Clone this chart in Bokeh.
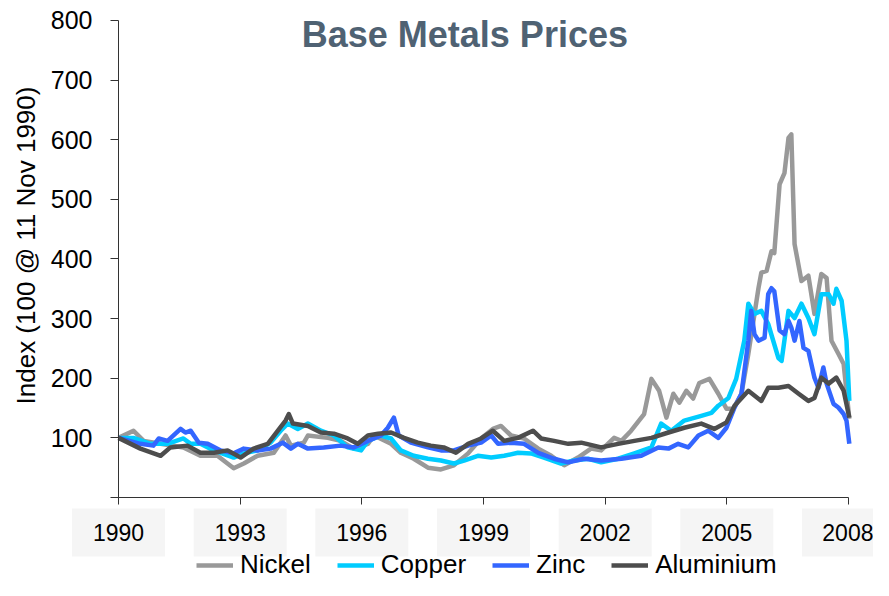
from math import pi
from bokeh.plotting import figure
from bokeh.models import Range1d, FixedTicker, Label, Legend, LegendItem
from bokeh.embed import file_html
from bokeh.resources import INLINE

# ---------------- data ----------------
tick_years = [1990, 1993, 1996, 1999, 2002, 2005, 2008]
tick_labels = ["1990", "1993", "1996", "1999", "2002", "2005", "2008"]
y_ticks = [0, 100, 200, 300, 400, 500, 600, 700, 800]

nickel_x = [1990.00, 1990.37, 1990.62, 1991.04, 1991.60, 1992.02, 1992.44, 1992.84, 1993.09, 1993.43,
            1993.83, 1994.12, 1994.25, 1994.57, 1994.67, 1995.16, 1995.48, 1995.80, 1996.15, 1996.30,
            1996.72, 1996.96, 1997.28, 1997.63, 1997.95, 1998.27, 1998.62, 1998.94, 1999.23, 1999.43,
            1999.68, 2000.00, 2000.35, 2000.67, 2000.99, 2001.33, 2001.65, 2001.90, 2002.22, 2002.40,
            2002.64, 2002.96, 2003.14, 2003.33, 2003.51, 2003.68, 2003.83, 2004.00, 2004.17, 2004.32,
            2004.57, 2004.79, 2004.99, 2005.16, 2005.36, 2005.53, 2005.78, 2005.85, 2005.98, 2006.10,
            2006.17, 2006.30, 2006.42, 2006.52, 2006.59, 2006.67, 2006.84, 2007.01, 2007.16, 2007.33,
            2007.46, 2007.58, 2007.75, 2007.88, 2008.02]
nickel_y = [100, 112, 95, 90, 84, 70, 70, 49, 57, 70,
            75, 104, 87, 92, 104, 100, 95, 82, 90, 104,
            90, 75, 65, 50, 47, 54, 74, 99, 115, 120,
            104, 99, 82, 70, 54, 67, 82, 79, 100, 95,
            112, 140, 199, 179, 134, 174, 159, 179, 166, 192,
            199, 174, 149, 149, 174, 241, 351, 377, 380, 413,
            410, 525, 544, 603, 609, 425, 363, 372, 308, 375,
            368, 263, 241, 224, 132]

copper_x = [1990.00, 1990.37, 1990.79, 1991.21, 1991.60, 1991.78, 1992.02, 1992.35, 1992.84, 1993.09,
            1993.43, 1993.75, 1994.00, 1994.17, 1994.42, 1994.67, 1994.99, 1995.31, 1995.65, 1995.98,
            1996.15, 1996.47, 1996.72, 1996.96, 1997.28, 1997.63, 1997.95, 1998.27, 1998.52, 1998.86,
            1999.19, 1999.51, 1999.85, 2000.17, 2000.49, 2000.91, 2001.23, 2001.58, 2001.90, 2002.32,
            2002.72, 2003.14, 2003.38, 2003.63, 2003.95, 2004.37, 2004.62, 2004.79, 2005.04, 2005.23,
            2005.43, 2005.53, 2005.68, 2005.85, 2006.02, 2006.27, 2006.35, 2006.52, 2006.67, 2006.84,
            2007.01, 2007.16, 2007.33, 2007.51, 2007.63, 2007.70, 2007.83, 2007.95, 2008.02]
copper_y = [100, 100, 90, 90, 99, 90, 90, 79, 67, 74,
            79, 92, 112, 124, 115, 124, 112, 104, 84, 79,
            95, 104, 99, 79, 70, 65, 62, 57, 62, 70,
            67, 70, 75, 74, 67, 57, 62, 65, 59, 65,
            74, 84, 124, 112, 129, 137, 142, 154, 167, 199,
            263, 325, 308, 313, 291, 234, 229, 313, 301, 325,
            301, 274, 341, 341, 325, 350, 330, 263, 162]

zinc_x = [1990.00, 1990.54, 1990.86, 1990.99, 1991.21, 1991.53, 1991.65, 1991.78, 1991.98, 1992.20,
          1992.52, 1992.84, 1993.09, 1993.43, 1993.75, 1994.05, 1994.25, 1994.42, 1994.67, 1995.06,
          1995.48, 1995.80, 1996.15, 1996.47, 1996.64, 1996.79, 1996.91, 1997.21, 1997.63, 1997.95,
          1998.27, 1998.62, 1998.94, 1999.19, 1999.36, 1999.68, 2000.00, 2000.35, 2000.74, 2001.09,
          2001.48, 2001.90, 2002.40, 2002.89, 2003.31, 2003.56, 2003.80, 2004.05, 2004.30, 2004.54,
          2004.79, 2004.99, 2005.19, 2005.36, 2005.53, 2005.60, 2005.68, 2005.78, 2005.93, 2006.02,
          2006.10, 2006.17, 2006.30, 2006.42, 2006.52, 2006.59, 2006.67, 2006.79, 2006.89, 2007.01,
          2007.16, 2007.26, 2007.38, 2007.46, 2007.63, 2007.75, 2007.88, 2007.95, 2008.02]
zinc_y = [100, 90, 87, 99, 95, 115, 109, 112, 92, 90,
          79, 74, 82, 79, 82, 92, 82, 90, 82, 84,
          87, 84, 95, 104, 117, 134, 104, 92, 84, 79,
          79, 87, 92, 104, 90, 92, 90, 75, 65, 59,
          65, 62, 65, 70, 84, 82, 90, 84, 104, 112,
          100, 117, 151, 174, 263, 313, 274, 263, 268, 341,
          351, 346, 280, 274, 296, 285, 263, 296, 251, 246,
          201, 184, 218, 191, 157, 151, 140, 129, 90]

aluminium_x = [1990.00, 1990.54, 1991.04, 1991.28, 1991.70, 1992.02, 1992.35, 1992.69, 1993.01, 1993.33,
               1993.68, 1993.93, 1994.12, 1994.20, 1994.30, 1994.67, 1994.99, 1995.31, 1995.65, 1995.90,
               1996.15, 1996.40, 1996.72, 1997.04, 1997.38, 1997.70, 1998.02, 1998.32, 1998.62, 1998.94,
               1999.23, 1999.51, 1999.85, 2000.22, 2000.42, 2000.74, 2001.09, 2001.41, 2001.90, 2002.32,
               2002.72, 2003.14, 2003.56, 2003.95, 2004.37, 2004.69, 2004.99, 2005.19, 2005.53, 2005.85,
               2006.02, 2006.27, 2006.52, 2006.77, 2007.01, 2007.16, 2007.33, 2007.51, 2007.70, 2007.88,
               2008.02]
aluminium_y = [100, 82, 70, 84, 87, 75, 75, 79, 67, 82,
               90, 112, 129, 140, 124, 120, 109, 107, 99, 90,
               104, 107, 109, 100, 92, 87, 84, 75, 90, 99,
               112, 95, 100, 112, 99, 95, 90, 92, 84, 90,
               95, 100, 109, 117, 124, 115, 126, 154, 179, 162,
               184, 184, 187, 174, 162, 167, 201, 191, 201, 179,
               134]

series_names = ["Nickel", "Copper", "Zinc", "Aluminium"]
series_colors = ["#999999", "#00ccff", "#3366ff", "#4d4d4d"]

FONT = "Liberation Sans"
W, H = 873, 580

# ---------------- figure: frame fills the canvas, axes pinned at data positions --------
p = figure(width=W, height=H, output_backend="svg", toolbar_location=None,
           x_range=Range1d(1987.0904, 2008.616), y_range=Range1d(-139.2, 833.54),
           min_border_left=0, min_border_right=0, min_border_top=0, min_border_bottom=0)
p.outline_line_color = None
p.grid.visible = False
p.background_fill_color = "white"
p.border_fill_color = "white"

# grey boxes behind x tick labels
p.rect(x=tick_years, y=[-58.7] * len(tick_years), width=93, height=48,
       width_units="screen", height_units="screen",
       fill_color="#f5f5f5", line_color=None)

# x axis
xa = p.xaxis[0]
xa.fixed_location = 0
xa.bounds = (1990, 2008)
xa.ticker = FixedTicker(ticks=tick_years)
xa.major_label_overrides = {t: s for t, s in zip(tick_years, tick_labels)}
xa.major_tick_out = 7
xa.major_tick_in = 0
xa.minor_tick_line_color = None
xa.axis_line_color = "#333333"
xa.major_tick_line_color = "#333333"
xa.major_label_text_font = FONT
xa.major_label_text_font_size = "23px"
xa.major_label_text_color = "black"
xa.major_label_standoff = 19

# y axis
ya = p.yaxis[0]
ya.fixed_location = 1990
ya.bounds = (0, 800)
ya.ticker = FixedTicker(ticks=y_ticks)
ya.major_label_overrides = {0: ""}
ya.major_tick_out = 8
ya.major_tick_in = 0
ya.minor_tick_line_color = None
ya.axis_line_color = "#333333"
ya.major_tick_line_color = "#333333"
ya.major_label_text_font = FONT
ya.major_label_text_font_size = "25px"
ya.major_label_text_color = "black"
ya.major_label_standoff = 18

# y axis title
p.add_layout(Label(x=1987.707, y=422.6, text="Index (100 @ 11 Nov 1990)", angle=pi / 2,
                   text_align="center", text_baseline="middle", text_font=FONT,
                   text_font_size="26px", text_color="black"))

# lines
xs = [nickel_x, copper_x, zinc_x, aluminium_x]
ys = [nickel_y, copper_y, zinc_y, aluminium_y]
renderers = []
for x, y, c in zip(xs, ys, series_colors):
    renderers.append(p.line(x, y, line_color=c, line_width=4.5, line_join="round"))

# title inside plot
p.add_layout(Label(x=1998.54, y=776, text="Base Metals Prices", text_align="center",
                   text_baseline="middle", text_font=FONT, text_font_size="36px",
                   text_font_style="bold", text_color="#4f6273"))

# legend
legend = Legend(items=[LegendItem(label=n, renderers=[r]) for n, r in zip(series_names, renderers)],
                orientation="horizontal", location=(196, 0),
                glyph_width=37, glyph_height=20, label_standoff=7, spacing=26,
                padding=0, margin=0, border_line_color=None, background_fill_alpha=0,
                label_text_font=FONT, label_text_font_size="26px", label_text_color="black")
p.add_layout(legend, "center")

open("out.html", "w").write(file_html(p, INLINE))
